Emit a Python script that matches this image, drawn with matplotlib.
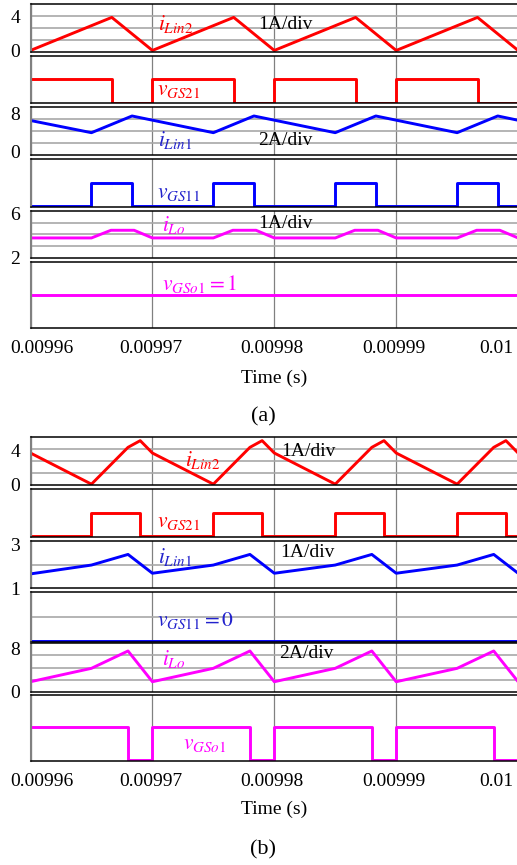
import numpy as np
import matplotlib
matplotlib.use('Agg')
import matplotlib.pyplot as plt
from matplotlib.transforms import ScaledTranslation

plt.rcParams['font.family'] = ['Liberation Serif', 'DejaVu Serif']
plt.rcParams['mathtext.fontset'] = 'stix'

RED = '#ff0000'
BLUE = '#0000ff'
MAG = '#ff00ff'

t0 = 0.00996
xticks = [0.00996, 0.00997, 0.00998, 0.00999, 0.01]
xticklabels = ['0.00996', '0.00997', '0.00998', '0.00999', '0.01']

# ---------------- (a) ----------------  times in us after t0
t_ilin2_a = [0, 6.67, 10, 16.67, 20, 26.67, 30, 36.67, 40]
ilin2_a = [0, 3.95, 0, 3.95, 0, 3.95, 0, 3.95, 0]
t_vgs21_a = [0, 6.67, 10, 16.67, 20, 26.67, 30, 36.67, 40]
vgs21_a = [1, 0, 1, 0, 1, 0, 1, 0, 0]
t_ilin1_a = [0, 5, 8.33, 15, 18.33, 25, 28.33, 35, 38.33, 40]
ilin1_a = [6.5, 3.96, 7.44, 3.96, 7.44, 3.96, 7.44, 3.96, 7.44, 6.55]
t_vgs11_a = [0, 5, 8.33, 15, 18.33, 25, 28.33, 35, 38.33, 40]
vgs11_a = [0, 1, 0, 1, 0, 1, 0, 1, 0, 0]
t_ilo_a = [0, 5, 6.6, 8.5, 10, 15, 16.6, 18.5, 20, 25, 26.6, 28.5, 30, 35, 36.6, 38.5, 40]
ilo_a = [3.78, 3.78, 4.47, 4.47, 3.78, 3.78, 4.47, 4.47, 3.78,
         3.78, 4.47, 4.47, 3.78, 3.78, 4.47, 4.47, 3.78]
t_vgso1_a = [0, 40]
vgso1_a = [1, 1]

# ---------------- (b) ----------------
t_ilin2_b = [0, 5, 8, 9, 10, 15, 18, 19, 20, 25, 28, 29, 30, 35, 38, 39, 40]
ilin2_b = [3.72, 0, 4.4, 5.2, 3.72, 0, 4.4, 5.2, 3.72,
           0, 4.4, 5.2, 3.72, 0, 4.4, 5.2, 3.72]
t_vgs21_b = [0, 5, 9, 15, 19, 25, 29, 35, 39, 40]
vgs21_b = [0, 1, 0, 1, 0, 1, 0, 1, 0, 0]
t_ilin1_b = [0, 5, 8, 10, 15, 18, 20, 25, 28, 30, 35, 38, 40]
ilin1_b = [1.65, 2.05, 2.53, 1.68, 2.05, 2.53, 1.68, 2.05, 2.53, 1.68, 2.05, 2.53, 1.68]
t_vgs11_b = [0, 40]
vgs11_b = [0, 0]
t_ilo_b = [0, 5, 8, 10, 15, 18, 20, 25, 28, 30, 35, 38, 40]
ilo_b = [1.74, 4.25, 7.5, 1.74, 4.25, 7.5, 1.74, 4.25, 7.5, 1.74, 4.25, 7.5, 1.74]
t_vgso1_b = [0, 8, 10, 18, 20, 28, 30, 38, 40]
vgso1_b = [1, 0, 1, 0, 1, 0, 1, 0, 0]

W, H = 517, 865
fig = plt.figure(figsize=(W/100, H/100), dpi=100)

X0, XW = 30.5, 487.6


def panel(top, bot, ylim, yl, ndiv):
    ax = fig.add_axes([X0/W, 1-bot/H, XW/W, (bot-top)/H])
    ax.set_xlim(t0, 0.01)
    ax.set_ylim(*ylim)
    ax.set_xticks(xticks)
    ax.set_xticklabels([])
    ax.set_yticks(yl)
    ax.set_yticklabels([str(v) for v in yl], fontsize=14)
    ax.set_yticks(np.linspace(ylim[0], ylim[1], ndiv+1)[1:-1], minor=True)
    ax.tick_params(which='both', length=0)
    ax.tick_params(axis='y', pad=7.5)
    ax.grid(axis='x', which='major', color='#808080', lw=0.9)
    ax.grid(axis='y', which='minor', color='#a8a8a8', lw=1.2)
    ax.set_axisbelow(True)
    ax.spines['right'].set_visible(False)
    ax.spines['left'].set_color('#808080')
    ax.spines['left'].set_linewidth(1.5)
    for s in ('top', 'bottom'):
        ax.spines[s].set_color('black')
        ax.spines[s].set_linewidth(1.1)
    return ax


def us(t):
    return t0 + np.array(t)*1e-6


def label_txt(ax, x, y, s, c, size=15.5):
    ax.text((x-X0)/XW, y, s, transform=ax.transAxes, ha='left', va='center',
            fontsize=size, color=c)


def bottom_ticks(ax):
    ax.set_xticklabels(xticklabels, fontsize=14)
    ax.tick_params(axis='x', pad=8.5)
    shifts = [11.5, -2, -2, -2, -22]
    for lab, dx in zip(ax.get_xticklabels(), shifts):
        lab.set_transform(lab.get_transform() + ScaledTranslation(dx/100, 0, fig.dpi_scale_trans))


lw = 2.1

# ---- group (a) ----
a1 = panel(4, 51.7, (-0.15, 5.55), [0, 4], 4)
a1.plot(us(t_ilin2_a), ilin2_a, color=RED, lw=lw)
label_txt(a1, 158, 0.58, r'$i_{Lin2}$', RED)
label_txt(a1, 258, 0.56, '1A/div', 'black', 14)

a2 = panel(56, 103.3, (-0.03, 2), [], 1)
a2.step(us(t_vgs21_a), vgs21_a, where='post', color=RED, lw=lw)
label_txt(a2, 157, 0.27, r'$v_{GS21}$', RED)

a3 = panel(107.3, 155, (-0.69, 9.25), [0, 8], 4)
a3.plot(us(t_ilin1_a), ilin1_a, color=BLUE, lw=lw)
label_txt(a3, 158, 0.31, r'$i_{Lin1}$', '#2222cc')
label_txt(a3, 258, 0.30, '2A/div', 'black', 14)

a4 = panel(159.3, 206.7, (-0.03, 2), [], 1)
a4.step(us(t_vgs11_a), vgs11_a, where='post', color=BLUE, lw=lw)
label_txt(a4, 157, 0.27, r'$v_{GS11}$', '#2222cc')

a5 = panel(210.7, 258.3, (1.95, 6.23), [2, 6], 4)
a5.plot(us(t_ilo_a), ilo_a, color=MAG, lw=lw)
label_txt(a5, 162, 0.70, r'$i_{Lo}$', MAG)
label_txt(a5, 258, 0.73, '1A/div', 'black', 14)

a6 = panel(262.3, 328, (-0.03, 2), [], 1)
a6.plot(us(t_vgso1_a), vgso1_a, color=MAG, lw=lw)
label_txt(a6, 162, 0.67, r'$v_{GSo1}=1$', MAG)
bottom_ticks(a6)

fig.text(274/W, 1-378/H, 'Time (s)', ha='center', va='center', fontsize=14)
fig.text(263/W, 1-417/H, '(a)', ha='center', va='center', fontsize=16)

# ---- group (b) ----
b1 = panel(437.3, 485, (-0.1, 5.6), [0, 4], 4)
b1.plot(us(t_ilin2_b), ilin2_b, color=RED, lw=lw)
label_txt(b1, 185, 0.52, r'$i_{Lin2}$', RED)
label_txt(b1, 281, 0.70, '1A/div', 'black', 14)

b2 = panel(489.3, 536.7, (-0.03, 2), [], 1)
b2.step(us(t_vgs21_b), vgs21_b, where='post', color=RED, lw=lw)
label_txt(b2, 157, 0.30, r'$v_{GS21}$', RED)

b3 = panel(540.7, 588.3, (1.0, 3.15), [1, 3], 2)
b3.plot(us(t_ilin1_b), ilin1_b, color=BLUE, lw=lw)
label_txt(b3, 158, 0.65, r'$i_{Lin1}$', '#2222cc')
label_txt(b3, 280, 0.75, '1A/div', 'black', 14)

b4 = panel(592.3, 641.5, (-0.03, 2), [], 2)
b4.plot(us(t_vgs11_b), vgs11_b, color=BLUE, lw=lw)
label_txt(b4, 157, 0.42, r'$v_{GS11}=0$', '#2222cc')

b5 = panel(643.3, 691.7, (-0.13, 8.94), [0, 8], 4)
b5.plot(us(t_ilo_b), ilo_b, color=MAG, lw=lw)
label_txt(b5, 162, 0.68, r'$i_{Lo}$', MAG)
label_txt(b5, 279, 0.78, '2A/div', 'black', 14)

b6 = panel(695, 760.7, (-0.03, 2), [], 1)
b6.step(us(t_vgso1_b), vgso1_b, where='post', color=MAG, lw=lw)
label_txt(b6, 183, 0.25, r'$v_{GSo1}$', MAG)
bottom_ticks(b6)

fig.text(274/W, 1-809/H, 'Time (s)', ha='center', va='center', fontsize=14)
fig.text(263/W, 1-850/H, '(b)', ha='center', va='center', fontsize=16)

fig.savefig('out.png', dpi=100)
